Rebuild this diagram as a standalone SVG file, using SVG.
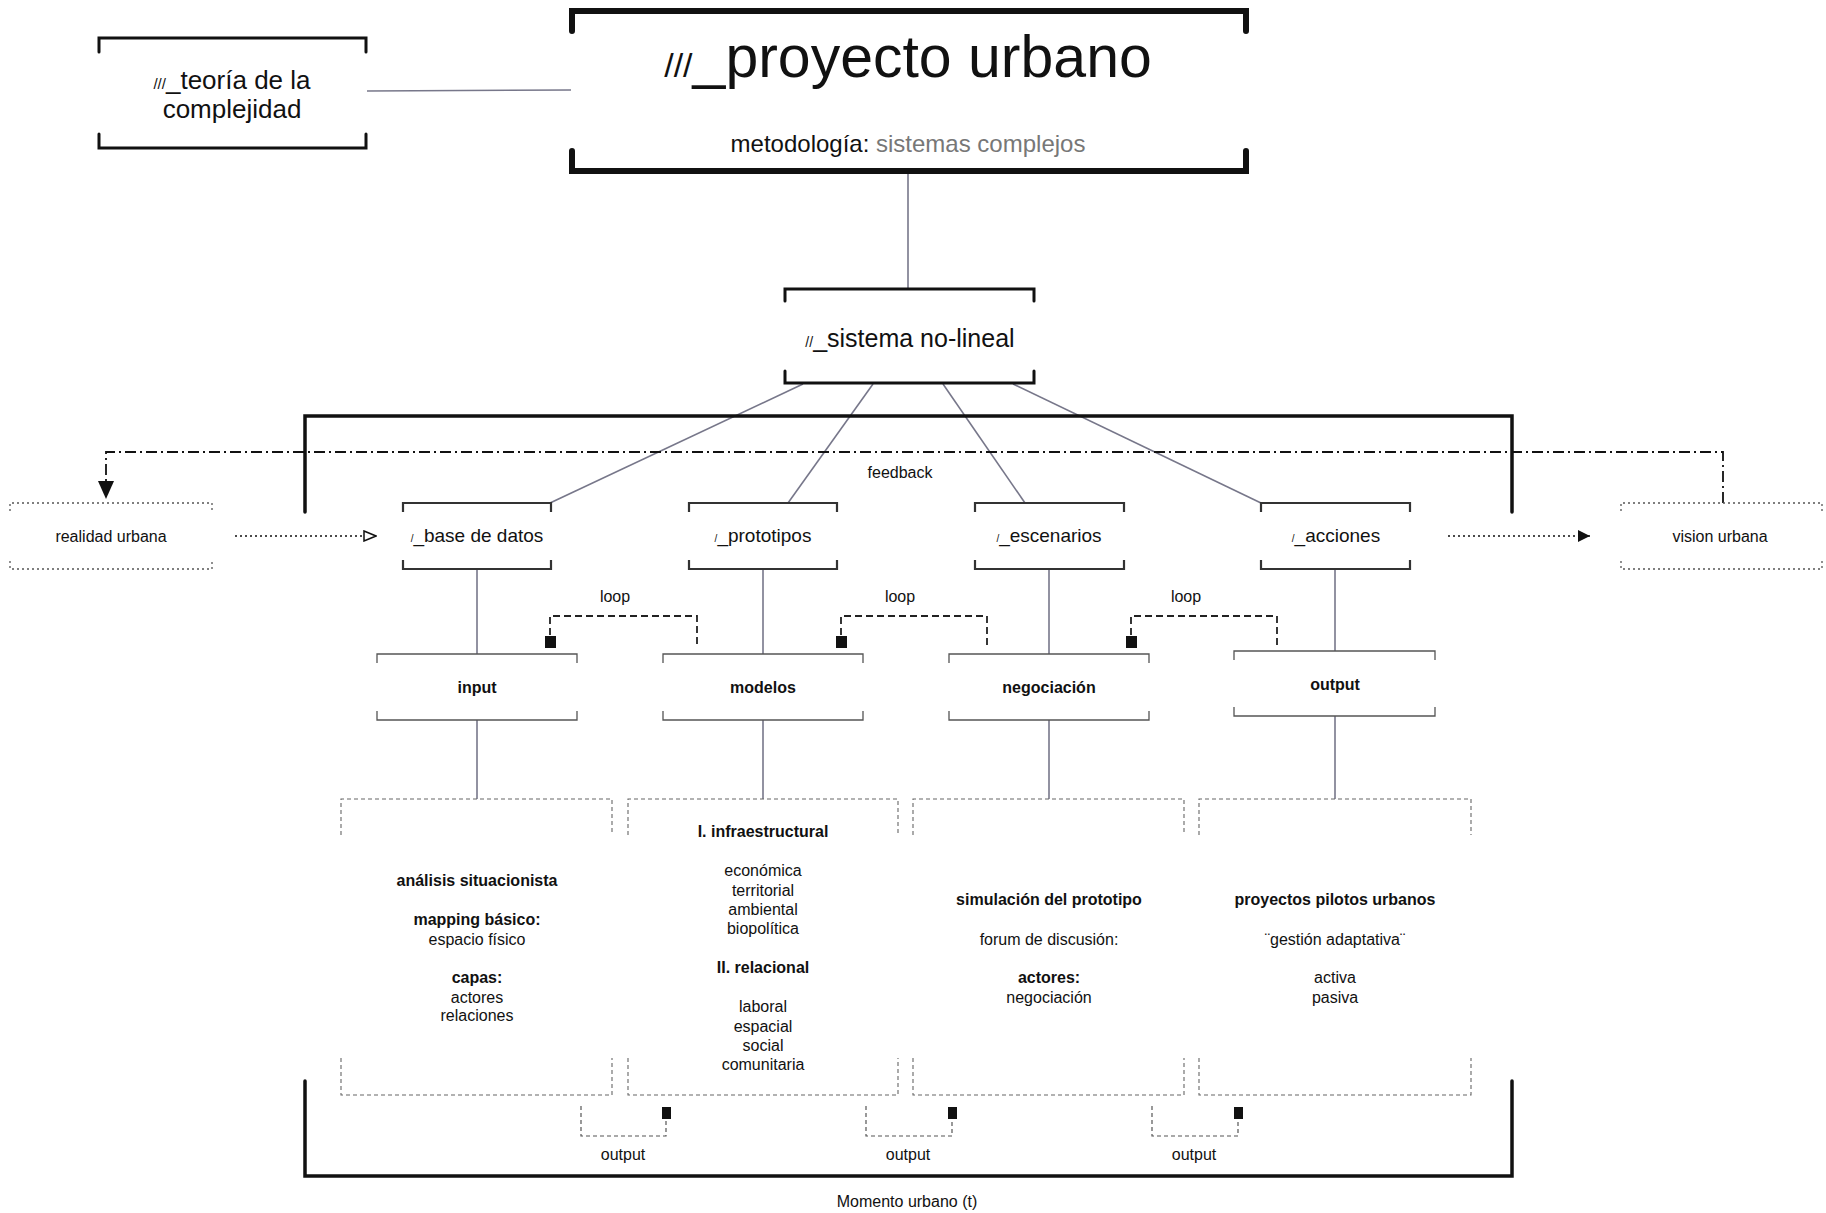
<svg xmlns="http://www.w3.org/2000/svg" width="1826" height="1213" viewBox="0 0 1826 1213">
<style>
text{font-family:"Liberation Sans",Arial,sans-serif;fill:#111;text-anchor:middle}
.b{font-weight:bold}
.t16{font-size:16px}
.br{fill:none;stroke:#111;stroke-linecap:round}
.l1{fill:none;stroke:#333;stroke-width:2.2}
.l2{fill:none;stroke:#555;stroke-width:1.3}
.dbox{fill:none;stroke:#666;stroke-width:1.1;stroke-dasharray:4 3}
.dot{fill:none;stroke:#555;stroke-width:1.3;stroke-dasharray:2 3}
.con{fill:none;stroke:#77778a;stroke-width:1.6}
.loop{fill:none;stroke:#222;stroke-width:1.8;stroke-dasharray:7 4}
.out{fill:none;stroke:#555;stroke-width:1.2;stroke-dasharray:4 3}
</style>
<defs>
<marker id="arrFill" viewBox="0 0 12 12" refX="12" refY="6" markerWidth="12" markerHeight="12" markerUnits="userSpaceOnUse" orient="auto"><path d="M0,0 L12,6 L0,12 z" fill="#111"/></marker>
<marker id="arrOpen" viewBox="0 0 14 12" refX="13" refY="6" markerWidth="14" markerHeight="12" markerUnits="userSpaceOnUse" orient="auto"><path d="M1,1 L13,6 L1,11 z" fill="#fff" stroke="#111" stroke-width="1.5"/></marker>
<marker id="arrBig" viewBox="0 0 16 18" refX="8" refY="18" markerWidth="16" markerHeight="18" markerUnits="userSpaceOnUse" orient="0"><path d="M0,0 L16,0 L8,18 z" fill="#111"/></marker>
</defs>

<g id="connectors">
<line class="con" x1="367" y1="91" x2="571" y2="90"/>
<line class="con" x1="908" y1="172" x2="908" y2="289"/>
<line class="con" x1="803" y1="384" x2="550" y2="503"/>
<line class="con" x1="873" y1="384" x2="788" y2="503"/>
<line class="con" x1="943" y1="384" x2="1025" y2="503"/>
<line class="con" x1="1013" y1="384" x2="1261" y2="503"/>
<line class="con" x1="477" y1="569" x2="477" y2="654"/>
<line class="con" x1="763" y1="569" x2="763" y2="654"/>
<line class="con" x1="1049" y1="569" x2="1049" y2="654"/>
<line class="con" x1="1335" y1="569" x2="1335" y2="651"/>
<line class="con" x1="477" y1="720" x2="477" y2="799"/>
<line class="con" x1="763" y1="720" x2="763" y2="799"/>
<line class="con" x1="1049" y1="720" x2="1049" y2="799"/>
<line class="con" x1="1335" y1="716" x2="1335" y2="799"/>
<path d="M1723,503 V452 H106 V499" fill="none" stroke="#111" stroke-width="1.8" stroke-dasharray="11 4 2 4" marker-end="url(#arrBig)"/>
<line x1="235" y1="536" x2="376" y2="536" stroke="#111" stroke-width="1.6" stroke-dasharray="2 3" marker-end="url(#arrOpen)"/>
<line x1="1448" y1="536" x2="1590" y2="536" stroke="#111" stroke-width="1.6" stroke-dasharray="2 3" marker-end="url(#arrFill)"/>
<path class="loop" d="M550,635 V616 H697 V648"/>
<rect x="545" y="636" width="11" height="12" fill="#111"/>
<path class="loop" d="M841,635 V616 H987 V648"/>
<rect x="836" y="636" width="11" height="12" fill="#111"/>
<path class="loop" d="M1131,635 V616 H1277 V648"/>
<rect x="1126" y="636" width="11" height="12" fill="#111"/>
<path class="out" d="M581,1106 V1136 H666 V1118"/>
<rect x="662" y="1107" width="9" height="12" fill="#111"/>
<path class="out" d="M866,1106 V1136 H952 V1118"/>
<rect x="948" y="1107" width="9" height="12" fill="#111"/>
<path class="out" d="M1152,1106 V1136 H1238 V1118"/>
<rect x="1234" y="1107" width="9" height="12" fill="#111"/>
<text class="t16" x="900" y="478">feedback</text>
<text class="t16" x="615" y="602">loop</text>
<text class="t16" x="900" y="602">loop</text>
<text class="t16" x="1186" y="602">loop</text>
<text x="623" y="1160" font-size="16">output</text>
<text x="908" y="1160" font-size="16">output</text>
<text x="1194" y="1160" font-size="16">output</text>
</g>

<g id="frame">
<path class="br" stroke-width="3.5" d="M305,512 V416 H1512 V512"/>
<path class="br" stroke-width="3.5" d="M305,1081 V1176 H1512 V1081"/>
<text class="t16" x="907" y="1207">Momento urbano (t)</text>
</g>

<g id="teoria">
<path class="br" stroke-width="3" d="M99,52 V38 H366 V52 M99,134 V148 H366 V134"/>
<text x="232" y="89" font-size="26"><tspan font-size="15">///</tspan>_teoría de la</text>
<text x="232" y="118" font-size="26">complejidad</text>
</g>

<g id="proyecto">
<path class="br" stroke-width="6" d="M572,31 V11 H1246 V31 M572,151 V171 H1246 V151"/>
<text x="908" y="77" font-size="59"><tspan font-size="34">///</tspan>_proyecto urbano</text>
<text x="908" y="152" font-size="24">metodología: <tspan fill="#777">sistemas complejos</tspan></text>
</g>

<g id="sistema">
<path class="br" stroke-width="3" d="M785,301 V289 H1034 V301 M785,371 V383 H1034 V371"/>
<text x="910" y="347" font-size="25"><tspan font-size="14">//</tspan>_sistema no-lineal</text>
</g>

<g id="realidad">
<path class="dot" d="M10,511 V503 H212 V511 M10,561 V569 H212 V561"/>
<text class="t16" x="111" y="542">realidad urbana</text>
</g>
<g id="vision">
<path class="dot" d="M1621,511 V503 H1822 V511 M1621,561 V569 H1822 V561"/>
<text class="t16" x="1720" y="542">vision urbana</text>
</g>

<g id="base">
<path class="l1" d="M403,512 V503 H551 V512 M403,560 V569 H551 V560"/>
<text x="477" y="542" font-size="19"><tspan font-size="10">/</tspan>_base de datos</text>
</g>
<g id="prototipos">
<path class="l1" d="M689,512 V503 H837 V512 M689,560 V569 H837 V560"/>
<text x="763" y="542" font-size="19"><tspan font-size="10">/</tspan>_prototipos</text>
</g>
<g id="escenarios">
<path class="l1" d="M975,512 V503 H1124 V512 M975,560 V569 H1124 V560"/>
<text x="1049" y="542" font-size="19"><tspan font-size="10">/</tspan>_escenarios</text>
</g>
<g id="acciones">
<path class="l1" d="M1261,512 V503 H1410 V512 M1261,560 V569 H1410 V560"/>
<text x="1336" y="542" font-size="19"><tspan font-size="10">/</tspan>_acciones</text>
</g>

<g id="input">
<path class="l2" d="M377,663 V654 H577 V663 M377,711 V720 H577 V711"/>
<text class="t16 b" x="477" y="693">input</text>
</g>
<g id="modelos">
<path class="l2" d="M663,663 V654 H863 V663 M663,711 V720 H863 V711"/>
<text class="t16 b" x="763" y="693">modelos</text>
</g>
<g id="negociacion">
<path class="l2" d="M949,663 V654 H1149 V663 M949,711 V720 H1149 V711"/>
<text class="t16 b" x="1049" y="693">negociación</text>
</g>
<g id="output">
<path class="l2" d="M1234,660 V651 H1435 V660 M1234,707 V716 H1435 V707"/>
<text class="t16 b" x="1335" y="690">output</text>
</g>

<g id="analisis">
<path class="dbox" d="M341,835 V799 H612 V835 M341,1058 V1095 H612 V1058"/>
<text class="t16 b" x="477" y="886">análisis situacionista</text>
<text class="t16 b" x="477" y="925">mapping básico:</text>
<text class="t16" x="477" y="945">espacio físico</text>
<text class="t16 b" x="477" y="983">capas:</text>
<text class="t16" x="477" y="1003">actores</text>
<text class="t16" x="477" y="1021">relaciones</text>
</g>
<g id="infraestructural">
<path class="dbox" d="M628,835 V799 H898 V835 M628,1058 V1095 H898 V1058"/>
<text class="t16 b" x="763" y="837">I. infraestructural</text>
<text class="t16" x="763" y="876">económica</text>
<text class="t16" x="763" y="896">territorial</text>
<text class="t16" x="763" y="915">ambiental</text>
<text class="t16" x="763" y="934">biopolítica</text>
<text class="t16 b" x="763" y="973">II. relacional</text>
<text class="t16" x="763" y="1012">laboral</text>
<text class="t16" x="763" y="1032">espacial</text>
<text class="t16" x="763" y="1051">social</text>
<text class="t16" x="763" y="1070">comunitaria</text>
</g>
<g id="simulacion">
<path class="dbox" d="M913,835 V799 H1184 V835 M913,1058 V1095 H1184 V1058"/>
<text class="t16 b" x="1049" y="905">simulación del prototipo</text>
<text class="t16" x="1049" y="945">forum de discusión:</text>
<text class="t16 b" x="1049" y="983">actores:</text>
<text class="t16" x="1049" y="1003">negociación</text>
</g>
<g id="pilotos">
<path class="dbox" d="M1199,835 V799 H1471 V835 M1199,1058 V1095 H1471 V1058"/>
<text class="t16 b" x="1335" y="905">proyectos pilotos urbanos</text>
<text class="t16" x="1335" y="945">¨gestión adaptativa¨</text>
<text class="t16" x="1335" y="983">activa</text>
<text class="t16" x="1335" y="1003">pasiva</text>
</g>
</svg>
